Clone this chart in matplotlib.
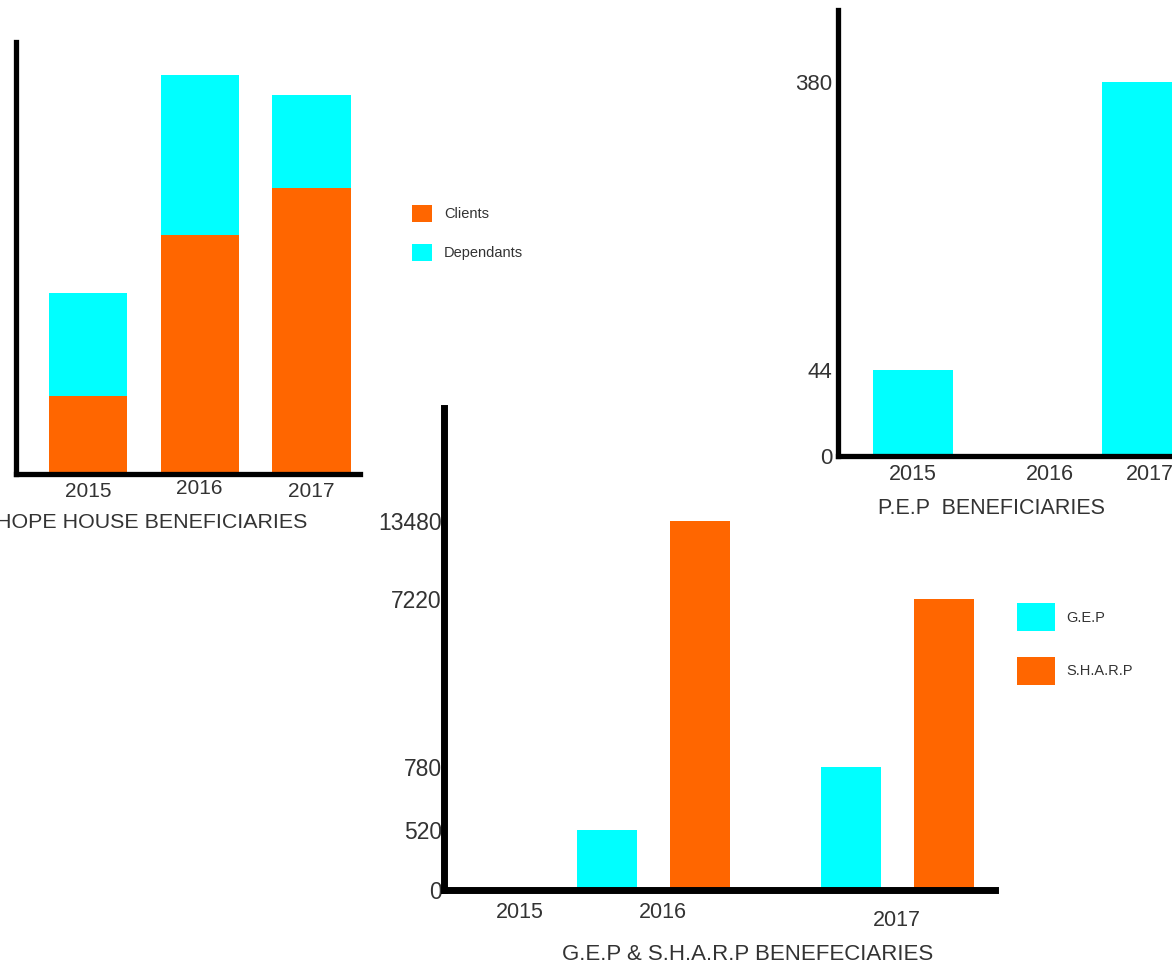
import matplotlib
matplotlib.use("Agg")
import matplotlib.pyplot as plt
import numpy as np

plt.rcParams['font.family'] = ['Liberation Sans', 'DejaVu Sans']

ORANGE = '#ff6600'
CYAN = '#00ffff'
TXT = '#333333'

years = ['2015', '2016', '2017']

# hope house - no scale printed on the original, heights
hope_clients = [78, 239, 286]
hope_dependants = [103, 160, 93]

# P.E.P
pep_values = [44, 0, 380]
pep_ticks = [0, 44, 380]

# G.E.P & S.H.A.R.P
gep_values = [0, 520, 780]
sharp_values = [0, 13480, 7220]
gep_ticks = [0, 520, 780, 7220, 13480]

W, H = 1172, 969
fig = plt.figure(figsize=(W / 100, H / 100), dpi=100)


def rect(left, top, right, bottom):
    return [left / W, 1 - bottom / H, (right - left) / W, (bottom - top) / H]


def style(ax, lw):
    for s in ['top', 'right']:
        ax.spines[s].set_visible(False)
    for s in ['left', 'bottom']:
        ax.spines[s].set_linewidth(lw)
        ax.spines[s].set_color('black')
    ax.tick_params(length=0, colors=TXT)
    ax.set_facecolor('none')


def squash(vals, px):
    # the original axes are not drawn to scale, so map values onto the drawn heights
    f = lambda v: np.interp(v, vals, px)
    g = lambda p: np.interp(p, px, vals)
    return (f, g)


# ---- HOPE HOUSE ----
ax1 = fig.add_axes(rect(16, 42, 360, 474))
style(ax1, 3.8)
x = np.arange(3)
ax1.bar(x, hope_clients, 0.7, color=ORANGE, label='Clients')
ax1.bar(x, hope_dependants, 0.7, bottom=hope_clients, color=CYAN, label='Dependants')
ax1.set_xlim(-0.645, 2.435)
ax1.set_ylim(0, 432)
ax1.set_yticks([])
ax1.set_xticks(x, years, fontsize=15)
ax1.tick_params(axis='x', pad=6)
ax1.get_xticklabels()[1].set_y(0.008)
ax1.legend(loc='upper left', bbox_to_anchor=(412 / W, 1 - 205 / H),
           bbox_transform=fig.transFigure, frameon=False, fontsize=10.5,
           handlelength=1.4, handleheight=1.4, labelspacing=1.5,
           handletextpad=0.8, borderpad=0, borderaxespad=0, labelcolor=TXT)
# the original picture is cropped through the first letter
fig.text(307 / W, 1 - 523 / H, 'HOPE HOUSE BENEFICIARIES', ha='right', va='center',
         fontsize=15.4, color=TXT)

# ---- P.E.P ----
ax2 = fig.add_axes(rect(838, 10, 1200, 456))
style(ax2, 3.8)
ax2.set_yscale('function', functions=squash([0, 44, 380, 464], [0, 86, 374, 446]))
ax2.bar(x, pep_values, 0.7, color=CYAN)
ax2.set_xlim(-0.655, 2.507)
ax2.set_ylim(0, 464)
ax2.set_yticks(pep_ticks, [str(t) for t in pep_ticks], fontsize=16)
ax2.set_xticks([0, 1.2, 2.07], years, fontsize=15.5)
ax2.tick_params(axis='x', pad=6)
ax2.tick_params(axis='y', pad=4)
fig.text(991 / W, 1 - 508 / H, 'P.E.P  BENEFICIARIES', ha='center', va='center',
         fontsize=15.5, color=TXT)

# ---- G.E.P & S.H.A.R.P ----
ax3 = fig.add_axes(rect(444, 408, 995, 890))
style(ax3, 5)
ax3.set_yscale('function', functions=squash([0, 520, 780, 7220, 13480, 22550],
                                            [0, 60, 123, 291, 369, 482]))
grp = np.array([0.455, 1, 2])
ax3.bar(grp - 0.19, gep_values, 0.245, color=CYAN, label='G.E.P')
ax3.bar(grp + 0.19, sharp_values, 0.245, color=ORANGE, label='S.H.A.R.P')
ax3.set_xlim(0.143, 2.40)
ax3.set_ylim(0, 22550)
ax3.set_yticks(gep_ticks, [str(t) for t in gep_ticks], fontsize=16.5)
ax3.set_xticks([0.455, 1.04, 2], years, fontsize=15.5)
ax3.tick_params(axis='x', pad=9)
ax3.tick_params(axis='y', pad=1.5)
ax3.get_xticklabels()[2].set_y(-0.015)
ax3.legend(loc='upper left', bbox_to_anchor=(1017 / W, 1 - 603 / H),
           bbox_transform=fig.transFigure, frameon=False, fontsize=10.5,
           handlelength=2.6, handleheight=2.6, labelspacing=1.75,
           handletextpad=0.8, borderpad=0, borderaxespad=0, labelcolor=TXT)
fig.text(748 / W, 1 - 955 / H, 'G.E.P & S.H.A.R.P BENEFECIARIES', ha='center', va='center',
         fontsize=16, color=TXT)

fig.savefig('out.png', dpi=100)
